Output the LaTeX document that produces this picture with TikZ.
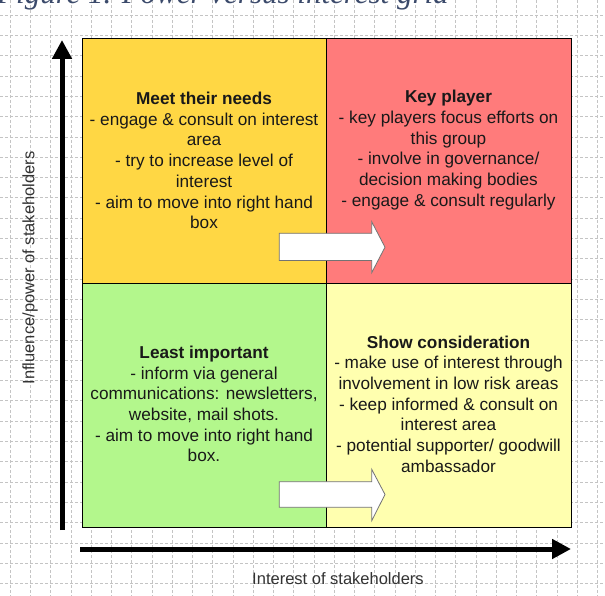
\documentclass[tikz,border=0pt]{standalone}
\usepackage{fontspec}
\setmainfont{Liberation Sans}
\newfontfamily\captionserif{Liberation Serif}
\usetikzlibrary{arrows.meta}
\definecolor{needs}{HTML}{FFD744}
\definecolor{keyp}{HTML}{FF7B7B}
\definecolor{least}{HTML}{B3F78C}
\definecolor{showc}{HTML}{FFFFAF}
\definecolor{titleblue}{HTML}{3B4A6B}
\definecolor{gridgray}{HTML}{C4C4C4}
\definecolor{labelgray}{HTML}{333333}
\begin{document}
\begin{tikzpicture}[x=1pt,y=-1pt,
  quad/.style={draw=black, line width=1pt, inner sep=0pt, outer sep=0pt},
  quadtext/.style={align=center, inner sep=0pt, text=black!90, font=\fontsize{17.2}{20.7}\selectfont},
  gridline/.style={gridgray, line width=0.5pt, densely dashed},
  axis/.style={line width=5pt, -{Triangle[width=19pt,length=19pt]}},
  axislabel/.style={text=labelgray, inner sep=0pt, font=\fontsize{16.5}{20}\selectfont},
  blockarrow/.style={fill=white, draw=black!55, line width=0.8pt, line join=miter}
]
\useasboundingbox (0,0) rectangle (605,596);
\fill[white] (0,0) rectangle (605,596);
% background grid
\foreach \i in {0,...,29} { \draw[gridline] ({10+20.25*\i},0) -- ({10+20.25*\i},596); }
\foreach \j in {0,...,28} { \draw[gridline] (0,{15+20.3*\j}) -- (605,{15+20.3*\j}); }
% caption (cut off by the page top)
\node[anchor=base west, inner sep=0pt, text=titleblue,
      font=\captionserif\itshape\fontsize{31}{36}\selectfont] (title) at (-3,4) {Figure 1. Power versus interest grid};
% quadrants
\node[quad, fill=needs, minimum width=244.5pt, minimum height=244pt] (q1) at (204.25,161) {};
\node[quad, fill=keyp,  minimum width=244.5pt, minimum height=244pt] (q2) at (448.75,161) {};
\node[quad, fill=least, minimum width=244.5pt, minimum height=244pt] (q3) at (204.25,405) {};
\node[quad, fill=showc, minimum width=244.5pt, minimum height=244pt] (q4) at (448.75,405) {};
% quadrant texts
\node[quadtext] (t1) at (204,160.5) {\textbf{Meet their needs}\\- engage \& consult on interest\\area\\- try to increase level of\\interest\\- aim to move into right hand\\box};
\node[quadtext] (t2) at (448.5,150) {\textbf{Key player}\\- key players focus efforts on\\this group\\- involve in governance/\\decision making bodies\\- engage \& consult regularly};
\node[quadtext] (t3) at (204,404) {\textbf{Least important}\\- inform via general\\communications: newsletters,\\website, mail shots.\\- aim to move into right hand\\box.};
\node[quadtext] (t4) at (448.5,404) {\textbf{Show consideration}\\- make use of interest through\\involvement in low risk areas\\- keep informed \& consult on\\interest area\\- potential supporter/ goodwill\\ambassador};
% block arrows
\draw[blockarrow] (279.3,233.3) -- (371.7,233.3) -- (371.7,221.7) -- (385,247.2) -- (371.7,272.7) -- (371.7,260.5) -- (279.3,260.5) -- cycle;
\draw[blockarrow] (279.3,481.7) -- (371.7,481.7) -- (371.7,469.3) -- (385,494.5) -- (371.7,520.7) -- (371.7,507.3) -- (279.3,507.3) -- cycle;
% axes
\coordinate (ybot) at (62,530);
\coordinate (ytop) at (62,40);
\draw[axis] (ybot) -- (ytop);
\coordinate (xleft) at (80,549);
\coordinate (xright) at (571,549);
\draw[axis] (xleft) -- (xright);
\node[axislabel, rotate=90] (ylab) at (30,268) {Influence/power of stakeholders};
\node[axislabel] (xlab) at (338,579) {Interest of stakeholders};
\end{tikzpicture}
\end{document}
